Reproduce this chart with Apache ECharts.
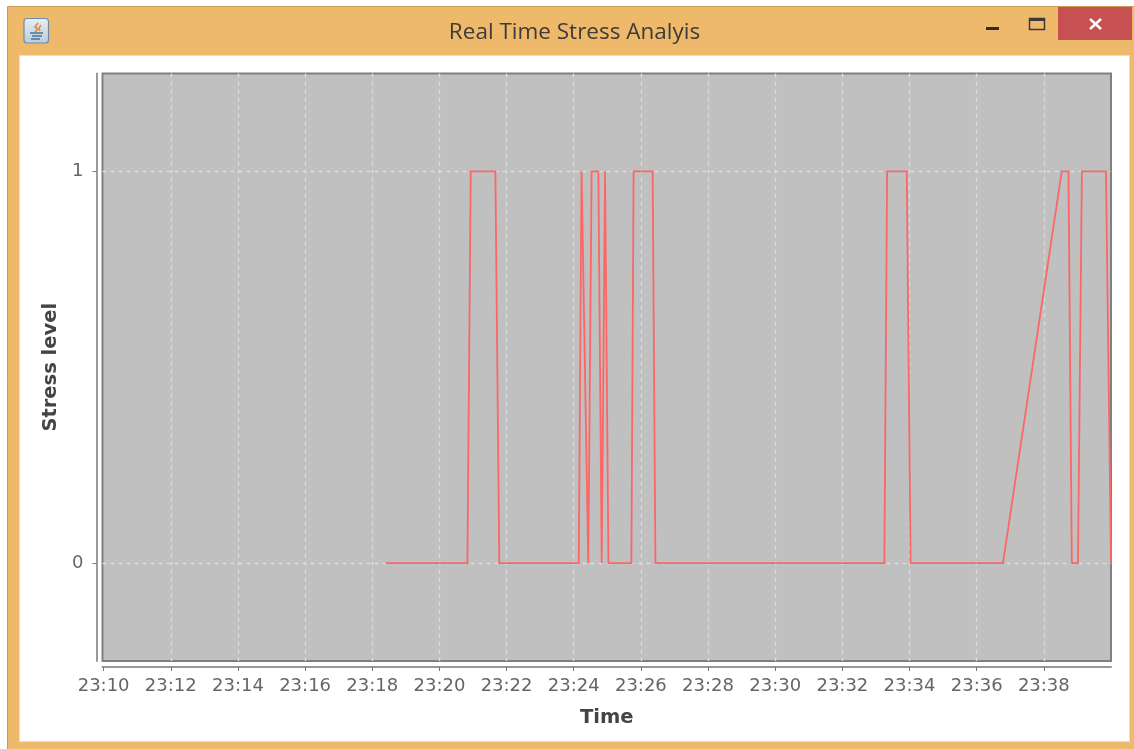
<!DOCTYPE html>
<html>
<head>
<meta charset="utf-8">
<style>html,body{margin:0;padding:0;background:#fff}#c{width:1134px;height:749px}</style>
<script src="https://cdn.jsdelivr.net/npm/echarts@6/dist/echarts.min.js"></script>
</head>
<body>
<div id="c"></div>
<script>
const windowTitle = 'Real Time Stress Analyis';
const tickLabels = ['23:10','23:12','23:14','23:16','23:18','23:20','23:22','23:24','23:26','23:28','23:30','23:32','23:34','23:36','23:38'];
const times = ['23:18:24','23:20:50','23:20:56','23:21:40','23:21:47','23:24:09','23:24:14','23:24:26','23:24:32','23:24:44','23:24:50','23:24:56','23:25:02','23:25:43','23:25:47','23:26:21','23:26:26','23:33:15','23:33:20','23:33:55','23:34:02','23:36:47','23:38:32','23:38:44','23:38:50','23:39:01','23:39:08','23:39:51','23:40:00'];
const stress = [0,0,1,1,0,0,1,0,1,1,0,1,0,0,1,1,0,0,1,1,0,0,1,1,0,0,1,1,0];
const yTicks = [0,1];

const sec = s => { const p = s.split(':').map(Number); return p[0]*3600 + p[1]*60 + (p[2]||0); };
const xTickVals = tickLabels.map(sec);
const FONT = '"DejaVu Sans"';
const frame = '#EFB96B', edge = '#C89B58';
const grey = '#666666';
const gridStyle = {color:'#DCDCDC',width:1.4,type:[4,4]};
const seg = (pts, stroke, w) => ({type:'polyline',z:-7,shape:{points:pts},style:{fill:'none',stroke:stroke,lineWidth:w}});

const chart = echarts.init(document.getElementById('c'), null, {renderer:'canvas'});
chart.setOption({
  animation:false,
  backgroundColor:'#fff',
  title:{
    text:windowTitle, left:574.5, top:21, padding:0, textAlign:'center',
    textStyle:{fontFamily:'"Open Sans"',fontSize:22.5,fontWeight:'normal',color:'#3c3c3c'}
  },
  grid:{left:102.5,top:73.5,width:1008.5,height:587.5,show:true,backgroundColor:'#C0C0C0',borderColor:'#808080',borderWidth:2,containLabel:false},
  xAxis:{
    type:'value',
    min:sec('23:09:58'),max:sec('23:40:00'),
    offset:6,
    name:'Time',nameLocation:'middle',nameGap:41,
    nameTextStyle:{fontFamily:FONT,fontSize:19.5,fontWeight:'bold',color:'#444'},
    axisLine:{show:true,onZero:false,lineStyle:{color:'#999',width:2}},
    axisTick:{show:true,length:4,lineStyle:{color:'#777',width:1},customValues:xTickVals},
    axisLabel:{
      customValues:xTickVals,
      formatter:v=>tickLabels[xTickVals.indexOf(v)]||'',
      fontFamily:FONT,fontSize:18,color:grey,margin:10,hideOverlap:false,showMinLabel:true,showMaxLabel:true
    },
    splitLine:{show:true,showMinLine:false,showMaxLine:true,lineStyle:gridStyle}
  },
  yAxis:{
    type:'value',
    min:-0.25,max:1.25,interval:0.25,
    offset:6,
    name:'Stress level',nameLocation:'middle',nameGap:30,nameRotate:90,
    nameTextStyle:{fontFamily:FONT,fontSize:19.5,fontWeight:'bold',color:'#444'},
    axisLine:{show:true,onZero:false,lineStyle:{color:'#999',width:2}},
    axisTick:{show:true,length:4,lineStyle:{color:'#777',width:1},customValues:yTicks},
    axisLabel:{customValues:yTicks,formatter:v=>String(v),fontFamily:FONT,fontSize:18,color:grey,margin:13,padding:[2,0,0,0]},
    splitLine:{show:true,showMinLine:true,showMaxLine:true,lineStyle:gridStyle}
  },
  series:[{
    type:'line',
    data:times.map((t,i)=>[sec(t),stress[i]]),
    showSymbol:false,symbol:'none',clip:true,
    lineStyle:{color:'#FC6666',width:1.8,join:'miter'},
    z:5
  }],
  graphic:{elements:[
    {type:'rect',z:-10,shape:{x:7.5,y:6.5,width:1130,height:745},style:{fill:frame,stroke:edge,lineWidth:1}},
    {type:'rect',z:-9,shape:{x:19.5,y:55.5,width:1110,height:686},style:{fill:'#fff',stroke:'#F3DDBB',lineWidth:1}},
    {type:'rect',z:-8,shape:{x:1058,y:7,width:74,height:33},style:{fill:'#C75050'}},
    seg([[1090,19],[1101,29]],'#fff',2.4),
    seg([[1101,19],[1090,29]],'#fff',2.4),
    {type:'rect',z:-8,shape:{x:986,y:27,width:13,height:3},style:{fill:'#2b2b2b'}},
    {type:'rect',z:-8,shape:{x:1029.5,y:18.5,width:15,height:11},style:{fill:'none',stroke:'#3a3a3a',lineWidth:1.5}},
    {type:'rect',z:-8,shape:{x:1029,y:18,width:16,height:3},style:{fill:'#3a3a3a'}},
    {type:'rect',z:-8,shape:{x:24,y:18.5,width:24.5,height:24.5,r:3},style:{fill:new echarts.graphic.LinearGradient(0,0,0,1,[{offset:0,color:'#E6EEF4'},{offset:1,color:'#B9CCDA'}]),stroke:'#6E8CA3',lineWidth:1.2}},
    seg([[38,23],[35,27],[38,29],[35,32]],'#E5883B',1.6),
    seg([[41,25],[39,28],[40,31]],'#E5883B',1.4),
    seg([[30,33],[43,33]],'#4C7391',1.5),
    seg([[32,36],[42,36]],'#4C7391',1.5),
    seg([[31,39],[40,39]],'#4C7391',1.5)
  ]}
});
</script>
</body>
</html>
